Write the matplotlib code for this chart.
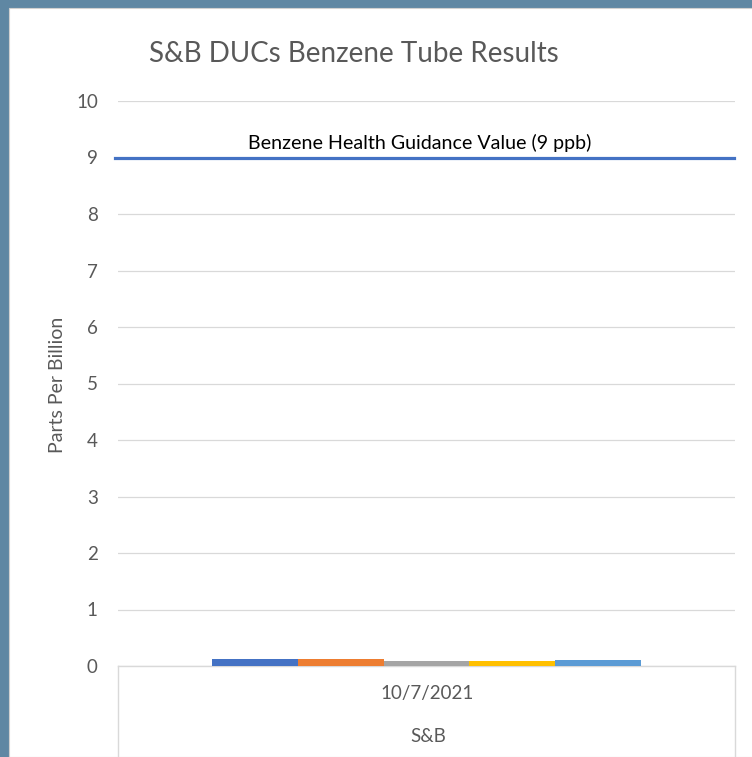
import matplotlib
matplotlib.use("Agg")
import matplotlib.pyplot as plt
from matplotlib.patches import Rectangle
from matplotlib.lines import Line2D
import numpy as np

plt.rcParams['font.family'] = ['Lato', 'DejaVu Sans']

title = "S&B DUCs Benzene Tube Results"
date_label = "10/7/2021"
site_label = "S&B"
series_values = [0.13, 0.13, 0.09, 0.08, 0.10]
series_colors = ["#4472c4", "#ed7d31", "#a5a5a5", "#ffc000", "#5b9bd5"]
guidance_value = 9
guidance_label = "Benzene Health Guidance Value (9 ppb)"
y_ticks = list(range(0, 11))

W, H = 752, 757
fig = plt.figure(figsize=(W/100, H/100), dpi=100)
fig.patch.set_facecolor("#5f87a3")
fig.patches.append(Rectangle((9/W, 0), 1, 1 - 8/H, transform=fig.transFigure,
                             facecolor="white", edgecolor="#d0d0d0", lw=0.8, zorder=-5))

ax = fig.add_axes([118/W, 1 - 666/H, (735-118)/W, (666-101)/H])
ax.patch.set_alpha(0)

n = len(series_values)
group_w = 0.695
bw = group_w / n
xs = -group_w/2 + bw/2 + np.arange(n)*bw
ax.bar(xs, series_values, width=bw, color=series_colors, zorder=3)
ax.set_xlim(-0.5, 0.5)
ax.set_ylim(0, 10)
ax.set_yticks(y_ticks)
ax.set_yticklabels([str(t) for t in y_ticks], fontsize=13.5, color="#595959")
ax.tick_params(axis='y', length=0, pad=14.5)
ax.set_xticks([])
ax.grid(axis='y', color="#d9d9d9", lw=0.9, zorder=0)
for s in ['top', 'right', 'left']:
    ax.spines[s].set_visible(False)
ax.spines['bottom'].set_color("#d9d9d9")
ax.spines['bottom'].set_linewidth(1.0)

ax.axhline(guidance_value, xmin=-0.005, xmax=0.998, color="#4472c4", lw=2.3, zorder=4, clip_on=False)
ax.text(-0.0104, guidance_value + 0.25, guidance_label, ha='center', va='center',
        fontsize=14.1, color="black")

ax.set_ylabel("Parts Per Billion", fontsize=14, color="#595959")
ax.yaxis.set_label_coords((66 - 118)/(735-118), (666-385)/(666-101))

# category box
for xpix in (118, 735):
    fig.add_artist(Line2D([xpix/W, xpix/W], [0, 1 - 666/H], transform=fig.transFigure,
                          color="#d9d9d9", lw=1.0))
fig.text(427/W, 1 - 694/H, date_label, ha='center', va='center', fontsize=13.5, color="#595959")
fig.text(428/W, 1 - 736/H, site_label, ha='center', va='center', fontsize=13.5, color="#595959")

fig.text(354/W, 1 - 54/H, title, ha='center', va='center', fontsize=20, color="#595959")

fig.savefig("out.png", dpi=100, facecolor=fig.get_facecolor())
